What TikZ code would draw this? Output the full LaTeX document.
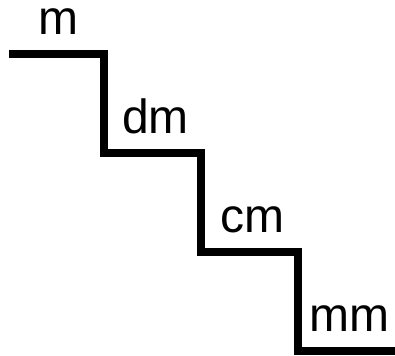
\documentclass[tikz,border=0pt]{standalone}
\usepackage{fontspec}
\setmainfont{Liberation Sans}
\tikzset{
  unitlabel/.style={font=\fontsize{48bp}{56bp}\selectfont, anchor=base, inner sep=0pt},
  stairs/.style={line width=7.5bp, line join=miter}
}
\begin{document}
\begin{tikzpicture}[x=97bp,y=99bp]
\useasboundingbox (-0.072,-0.0505) rectangle (4.0,3.545);
\draw[stairs] (0.02,3) -- (1,3) -- (1,2) -- (2,2) -- (2,1) -- (3,1) -- (3,0) -- (4.05,0);
\node[unitlabel] (m) at (0.53,3.2) {m};
\node[unitlabel] (dm) at (1.53,2.2) {dm};
\node[unitlabel] (cm) at (2.53,1.2) {cm};
\node[unitlabel] (mm) at (3.53,0.2) {mm};
\end{tikzpicture}
\end{document}
